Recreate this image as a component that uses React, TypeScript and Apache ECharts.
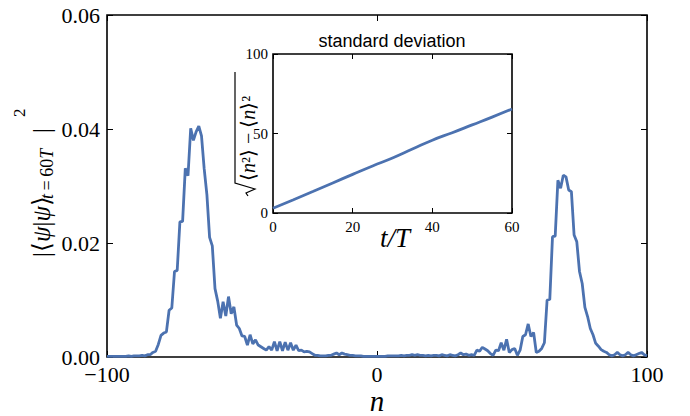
import React, { useEffect, useRef } from 'react';
import * as echarts from 'echarts';

// Main plot: lattice site n and probability |<psi|psi>|^2 at t = 60T
const sitePositions = [
  -100, -99, -98, -97, -96, -95, -94, -93, -92, -91,
  -90, -89, -88, -87, -86, -85, -84, -83, -82, -81,
  -80, -79, -78, -77, -76, -75, -74, -73, -72, -71,
  -70, -69, -68, -67, -66, -65, -64, -63, -62, -61,
  -60, -59, -58, -57, -56, -55, -54, -53, -52, -51,
  -50, -49, -48, -47, -46, -45, -44, -43, -42, -41,
  -40, -39, -38, -37, -36, -35, -34, -33, -32, -31,
  -30, -29, -28, -27, -26, -25, -24, -23, -22, -21,
  -20, -19, -18, -17, -16, -15, -14, -13, -12, -11,
  -10, -9, -8, -7, -6, -5, -4, -3, -2, -1,
  0, 1, 2, 3, 4, 5, 6, 7, 8, 9,
  10, 11, 12, 13, 14, 15, 16, 17, 18, 19,
  20, 21, 22, 23, 24, 25, 26, 27, 28, 29,
  30, 31, 32, 33, 34, 35, 36, 37, 38, 39,
  40, 41, 42, 43, 44, 45, 46, 47, 48, 49,
  50, 51, 52, 53, 54, 55, 56, 57, 58, 59,
  60, 61, 62, 63, 64, 65, 66, 67, 68, 69,
  70, 71, 72, 73, 74, 75, 76, 77, 78, 79,
  80, 81, 82, 83, 84, 85, 86, 87, 88, 89,
  90, 91, 92, 93, 94, 95, 96, 97, 98, 99,
  100,
];

const probability = [
  0.0001, 0.0001, 0.0001, 0.0001, 0.0001, 0.0001, 0.0001, 0.0001, 0.0002, 0.0001,
  0.0002, 0.0002, 0.0002, 0.0003, 0.0002, 0.0004, 0.0004, 0.0008, 0.0010, 0.0022,
  0.0038, 0.0042, 0.0044, 0.0082, 0.0086, 0.0150, 0.0152, 0.0237, 0.0238, 0.0331,
  0.0318, 0.0401, 0.0380, 0.0395, 0.0405, 0.0388, 0.0330, 0.0285, 0.0210, 0.0195,
  0.0120, 0.0098, 0.0068, 0.0097, 0.0072, 0.0106, 0.0076, 0.0088, 0.0056, 0.0050,
  0.0037, 0.0036, 0.0021, 0.0039, 0.0023, 0.0030, 0.0021, 0.0018, 0.0015, 0.0012,
  0.0018, 0.0012, 0.0027, 0.0011, 0.0027, 0.0011, 0.0026, 0.0012, 0.0025, 0.0012,
  0.0021, 0.0011, 0.0012, 0.0009, 0.0010, 0.0009, 0.0006, 0.0003, 0.0003, 0.0002,
  0.0002, 0.0002, 0.0003, 0.0003, 0.0005, 0.0007, 0.0004, 0.0007, 0.0005, 0.0004,
  0.0003, 0.0003, 0.0002, 0.0002, 0.0002, 0.0001, 0.0001, 0.0001, 0.0001, 0.0001,
  0.0001, 0.0001, 0.0001, 0.0001, 0.0002, 0.0002, 0.0002, 0.0002, 0.0002, 0.0003,
  0.0002, 0.0003, 0.0003, 0.0004, 0.0003, 0.0004, 0.0003, 0.0003, 0.0002, 0.0003,
  0.0002, 0.0003, 0.0003, 0.0002, 0.0004, 0.0003, 0.0002, 0.0004, 0.0003, 0.0002,
  0.0004, 0.0007, 0.0004, 0.0005, 0.0003, 0.0004, 0.0003, 0.0012, 0.0010, 0.0017,
  0.0014, 0.0011, 0.0006, 0.0003, 0.0012, 0.0011, 0.0025, 0.0012, 0.0031, 0.0008,
  0.0013, 0.0015, 0.0003, 0.0012, 0.0036, 0.0039, 0.0058, 0.0036, 0.0043, 0.0008,
  0.0010, 0.0015, 0.0025, 0.0100, 0.0101, 0.0211, 0.0212, 0.0310, 0.0296, 0.0319,
  0.0316, 0.0293, 0.0290, 0.0214, 0.0202, 0.0150, 0.0129, 0.0087, 0.0071, 0.0050,
  0.0039, 0.0024, 0.0019, 0.0013, 0.0010, 0.0008, 0.0004, 0.0002, 0.0004, 0.0008,
  0.0004, 0.0002, 0.0004, 0.0008, 0.0004, 0.0002, 0.0004, 0.0006, 0.0008, 0.0004,
  0.0002,
];

// Inset: standard deviation versus t/T
const timeValues = [0, 5, 10, 15, 20, 25, 30, 35, 40, 45, 50, 55, 60];
const stdValues = [3, 8.2, 13.5, 18.9, 24.3, 29.6, 34.6, 40.2, 45.8, 50.5, 55.4, 60.3, 65.4];

const insetTitle = 'standard deviation';

const SERIF = 'Liberation Serif';
const SANS = 'Liberation Sans';
const LINE = '#4c72b0';

const minus = (v: number) => String(v).replace('-', '\u2212');

function axisBase(
  grid: number, pos: string, min: number, max: number, interval: number,
  labels: boolean, tickLen: number, fontSize: number, margin: number,
  fmt: (v: number) => string,
) {
  return {
    type: 'value',
    gridIndex: grid,
    position: pos,
    min,
    max,
    interval,
    axisLine: { show: false, onZero: false },
    axisTick: { show: true, inside: true, length: tickLen, lineStyle: { color: '#000', width: 1 } },
    splitLine: { show: false },
    axisLabel: {
      show: labels,
      color: '#000',
      fontFamily: SERIF,
      fontSize,
      margin,
      formatter: (v: number) => '{s|' + fmt(v) + '}',
      rich: {
        s: { fontFamily: SERIF, fontSize, color: '#000', lineHeight: fontSize * 0.8 },
      },
    },
  };
}

const fixed2 = (v: number) => v.toFixed(2);

export default function App() {
  const ref = useRef<HTMLDivElement>(null);

  useEffect(() => {
    if (!ref.current) return;
    const chart = echarts.init(ref.current, null, { renderer: 'svg' });

    const option: any = {
      animation: false,
      backgroundColor: '#fff',
      textStyle: { fontFamily: SERIF },
      grid: [
        { left: 107, top: 15, width: 540, height: 342, show: true, borderColor: '#000', borderWidth: 1.6, backgroundColor: 'transparent' },
        { left: 273, top: 54, width: 239, height: 159, show: true, borderColor: '#000', borderWidth: 1.6, backgroundColor: '#fff' },
      ],
      xAxis: [
        axisBase(0, 'bottom', -100, 100, 100, true, 6, 22, 9, minus),
        axisBase(0, 'top', -100, 100, 100, false, 6, 22, 9, minus),
        axisBase(1, 'bottom', 0, 60, 20, true, 5, 15, 8, minus),
        axisBase(1, 'top', 0, 60, 20, false, 5, 15, 8, minus),
      ],
      yAxis: [
        axisBase(0, 'left', 0, 0.06, 0.02, true, 6, 22, 7, fixed2),
        axisBase(0, 'right', 0, 0.06, 0.02, false, 6, 22, 7, fixed2),
        axisBase(1, 'left', 0, 100, 50, true, 5, 15, 5, minus),
        axisBase(1, 'right', 0, 100, 50, false, 5, 15, 5, minus),
      ],
      series: [
        {
          type: 'line',
          xAxisIndex: 0,
          yAxisIndex: 0,
          data: sitePositions.map((n, i) => [n, probability[i]]),
          showSymbol: false,
          lineStyle: { color: LINE, width: 2.8 },
          z: 3,
        },
        {
          type: 'line',
          xAxisIndex: 2,
          yAxisIndex: 2,
          data: timeValues.map((t, i) => [t, stdValues[i]]),
          showSymbol: false,
          smooth: true,
          lineStyle: { color: LINE, width: 2.8 },
          z: 5,
        },
      ],
      graphic: [
        // inset title
        {
          type: 'text',
          x: 392,
          y: 41,
          style: { text: insetTitle, fontFamily: SANS, fontSize: 18, fill: '#000', align: 'center', verticalAlign: 'middle' },
        },
        // main x label
        {
          type: 'text',
          x: 377,
          y: 401,
          style: { text: 'n', fontFamily: SERIF, fontStyle: 'italic', fontSize: 29, lineHeight: 18, fill: '#000', align: 'center', verticalAlign: 'middle' },
        },
        // inset x label
        {
          type: 'text',
          x: 395,
          y: 238,
          style: { text: 't/T', fontFamily: SERIF, fontStyle: 'italic', fontSize: 27, lineHeight: 22, fill: '#000', align: 'center', verticalAlign: 'middle' },
        },
        // main y label
        {
          type: 'group',
          x: 41,
          y: 257,
          rotation: Math.PI / 2,
          children: [
            {
              type: 'text',
              x: 0,
              y: 0,
              style: {
                text: '{u||\u27E8}{i|\u03C8}{u||}{i|\u03C8}{u|\u27E9}',
                align: 'left',
                verticalAlign: 'middle',
                rich: {
                  u: { fontFamily: SERIF, fontSize: 25, fill: '#000' },
                  i: { fontFamily: SERIF, fontSize: 25, fontStyle: 'italic', fill: '#000' },
                },
              },
            },
            {
              type: 'text',
              x: 58,
              y: 6,
              style: {
                text: '{i|t}{u|\u2009=\u200960}{i|T}',
                align: 'left',
                verticalAlign: 'middle',
                rich: {
                  u: { fontFamily: SERIF, fontSize: 18, fill: '#000' },
                  i: { fontFamily: SERIF, fontSize: 18, fontStyle: 'italic', fill: '#000' },
                },
              },
            },
            {
              type: 'text',
              x: 124,
              y: 0,
              style: { text: '|', fontFamily: SERIF, fontSize: 25, fill: '#000', align: 'left', verticalAlign: 'middle' },
            },
            {
              type: 'text',
              x: 140,
              y: -22,
              style: { text: '2', fontFamily: SERIF, fontSize: 17, fill: '#000', align: 'left', verticalAlign: 'middle' },
            },
          ],
        },
        // inset y label
        {
          type: 'group',
          x: 247,
          y: 196,
          rotation: Math.PI / 2,
          children: [
            {
              type: 'polyline',
              shape: { points: [[0, 1], [3, -1], [7, 8], [13, -12], [124, -12]] },
              style: { stroke: '#000', lineWidth: 1.2, fill: null },
            },
            {
              type: 'text',
              x: 15,
              y: 1,
              style: {
                text: '{u|\u27E8}{i|n}{u|\u00B2\u27E9 \u2212 \u27E8}{i|n}{u|\u27E9\u00B2}',
                align: 'left',
                verticalAlign: 'middle',
                rich: {
                  u: { fontFamily: SERIF, fontSize: 20, fill: '#000' },
                  i: { fontFamily: SERIF, fontSize: 20, fontStyle: 'italic', fill: '#000' },
                },
              },
            },
          ],
        },
      ],
    };

    chart.setOption(option);
    return () => chart.dispose();
  }, []);

  return <div ref={ref} style={{ position: 'fixed', left: 0, top: 0, width: 690, height: 416 }} />;
}
